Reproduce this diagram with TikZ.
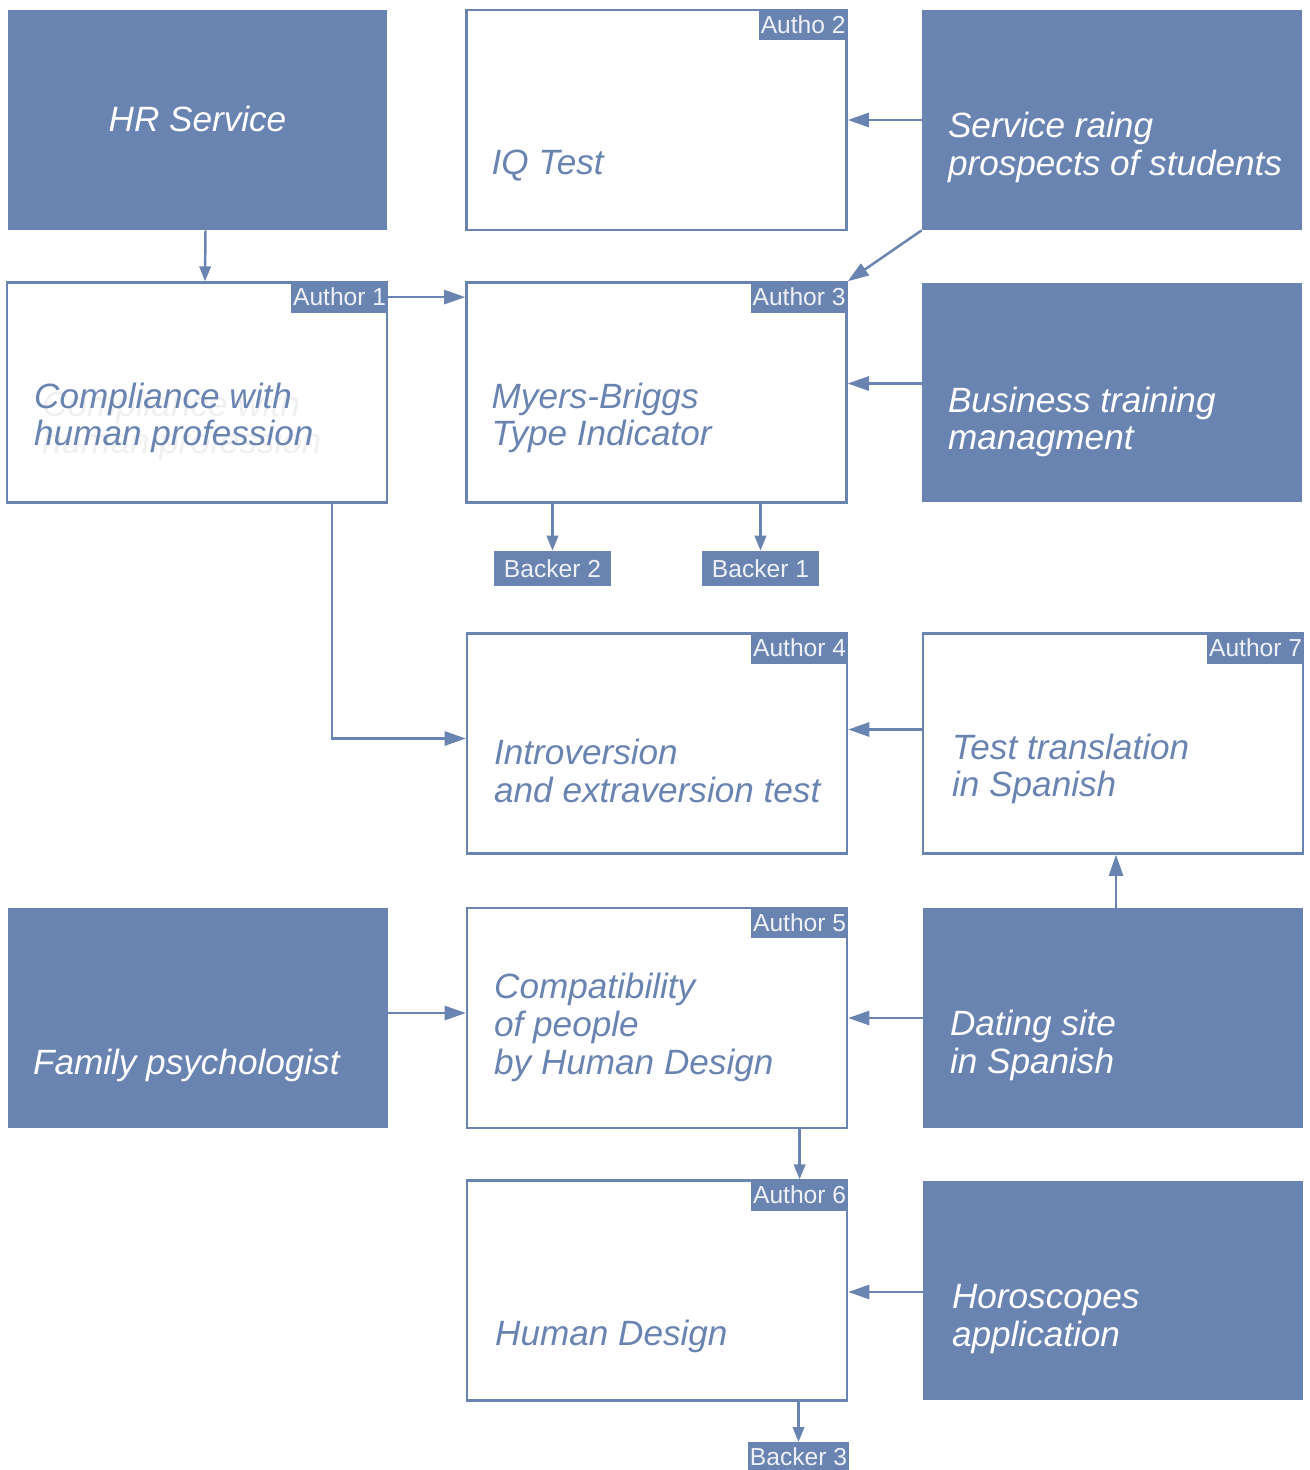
\documentclass[tikz,border=0pt]{standalone}
\usepackage{fontspec}
\setmainfont{Liberation Sans}
\usetikzlibrary{arrows.meta}
\usetikzlibrary{calc}
\definecolor{tileblue}{HTML}{6A84B1}
\definecolor{paleink}{HTML}{EEF1F6}
\tikzset{
  box/.style={draw=tileblue, line width=1.4pt, minimum width=7.6cm, minimum height=4.4cm, inner sep=0pt},
  solidbox/.style={fill=tileblue, minimum width=7.6cm, minimum height=4.4cm, inner sep=0pt},
  tag/.style={fill=tileblue, text=paleink, font=\fontsize{14}{16}\selectfont, inner xsep=1pt, inner ysep=0pt, minimum height=17.6pt},
  body/.style={text=tileblue, anchor=west, align=left, inner sep=0pt, yshift=-0.07cm, font=\fontsize{20}{21.5}\selectfont\itshape},
  bodyw/.style={body, text=white},
  arr/.style={draw=tileblue, line width=1.4pt, -{Triangle[length=12pt,width=8pt]}},
  sarr/.style={draw=tileblue, line width=1.4pt, -{Triangle[length=8.5pt,width=6.5pt]}}
}
\begin{document}
\begin{tikzpicture}[x=0.02cm, y=-0.02cm]
        \useasboundingbox (0,0) rectangle (1309,1470);

        \node[solidbox] (hr) at (197.5,120) {};
        \node[box] (iq) at (656.5,120) {};
        \node[solidbox] (srv) at (1112,120) {};
        \node[box] (comp) at (197,392.5) {};
        \node[box] (mbti) at (656.5,392.5) {};
        \node[solidbox] (biz) at (1112,392.5) {};
        \node[box] (intro) at (657,743.5) {};
        \node[box] (trans) at (1113,743.5) {};
        \node[solidbox] (fam) at (198,1018) {};
        \node[box] (compat) at (657,1018) {};
        \node[solidbox] (date) at (1113,1018) {};
        \node[box] (hd) at (657,1290.5) {};
        \node[solidbox] (horo) at (1113,1290.5) {};

        \node[bodyw, anchor=center] () at (197.5,115) {HR Service};
        \node[body] () at ($(iq.west)+(26,42)$) {IQ Test};
        \node[bodyw] () at ($(srv.west)+(26,24)$) {Service raing\\prospects of students};
        \node[body, text=black!6] () at ($(comp.west)+(36,30)$) {Compliance with\\human profession};
        \node[body] () at ($(comp.west)+(28,22)$) {Compliance with\\human profession};
        \node[body] () at ($(mbti.west)+(26,22)$) {Myers-Briggs\\Type Indicator};
        \node[bodyw] () at ($(biz.west)+(26,26)$) {Business training\\managment};
        \node[body] () at ($(intro.west)+(28,24)$) {Introversion\\and extraversion test};
        \node[body] () at ($(trans.west)+(30,22)$) {Test translation\\in Spanish};
        \node[bodyw] () at ($(fam.west)+(25,44)$) {Family psychologist};
        \node[body] () at ($(compat.west)+(28,6)$) {Compatibility\\of people\\by Human Design};
        \node[bodyw] () at ($(date.west)+(27,24)$) {Dating site\\in Spanish};
        \node[body] () at ($(hd.west)+(29,42)$) {Human Design};
        \node[bodyw] () at ($(horo.west)+(29,25)$) {Horoscopes\\application};

        \node[tag, anchor=north east] (t2) at (iq.north east) {Autho 2};
        \node[tag, anchor=north east] (t1) at (comp.north east) {Author 1};
        \node[tag, anchor=north east] (t3) at (mbti.north east) {Author 3};
        \node[tag, anchor=north east] (t4) at (intro.north east) {Author 4};
        \node[tag, anchor=north east] (t7) at (trans.north east) {Author 7};
        \node[tag, anchor=north east] (t5) at (compat.north east) {Author 5};
        \node[tag, anchor=north east] (t6) at (hd.north east) {Author 6};

        \node[tag, minimum width=117*0.02cm, minimum height=35*0.02cm] (b2) at (552.5,568.5) {Backer 2};
        \node[tag, minimum width=117*0.02cm, minimum height=35*0.02cm] (b1) at (760.5,568.5) {Backer 1};
        \node[tag, minimum width=97*0.02cm, minimum height=28*0.02cm, anchor=north] (b3) at (798.5,1442) {Backer 3};

        \draw[sarr] ($(hr.south)+(8,0)$) -- ($(comp.north)+(8,0)$);
        \draw[arr] (t1.east) -- (mbti.west |- t1.east);
        \draw[arr] (srv.west) -- (iq.east);
        \draw[arr] (srv.south west) -- (mbti.north east);
        \draw[arr] ($(biz.west)+(0,-9)$) -- ($(mbti.east)+(0,-9)$);
        \draw[sarr] (mbti.south -| b2.north) -- (b2.north);
        \draw[sarr] (mbti.south -| b1.north) -- (b1.north);
        \draw[arr] ($(comp.south east)+(-56,0)$) |- ($(intro.west)+(0,-5)$);
        \draw[arr] ($(trans.west)+(0,-14)$) -- ($(intro.east)+(0,-14)$);
        \draw[arr] ($(date.north)+(3,0)$) -- ($(trans.south)+(3,0)$);
        \draw[arr] ($(fam.east)+(0,-5)$) -- ($(compat.west)+(0,-5)$);
        \draw[arr] (date.west) -- (compat.east);
        \draw[sarr] (compat.south -| t6.north) -- (t6.north);
        \draw[arr] ($(horo.west)+(0,1.5)$) -- ($(hd.east)+(0,1.5)$);
        \draw[sarr] (hd.south -| b3.north) -- (b3.north);
\end{tikzpicture}
\end{document}
